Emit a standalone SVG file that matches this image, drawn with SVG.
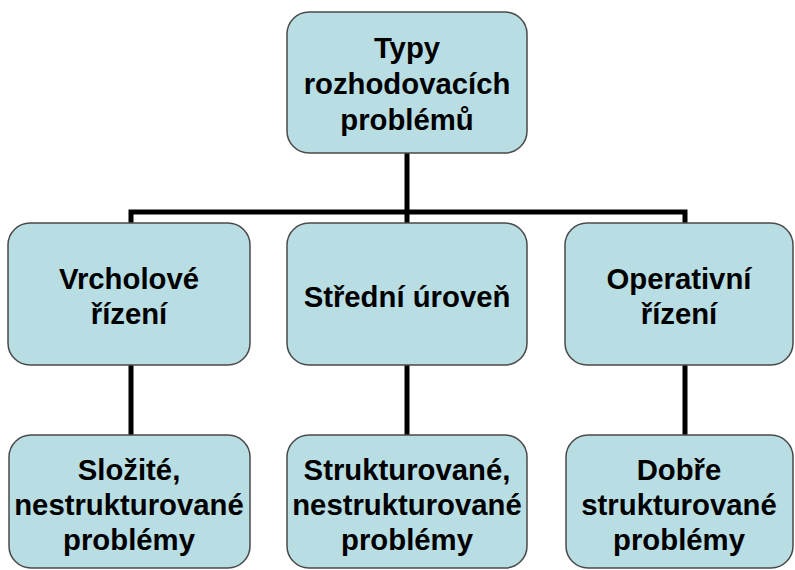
<svg xmlns="http://www.w3.org/2000/svg" width="795" height="570" viewBox="0 0 795 570">
<style>
.box{fill:#b8dde2;stroke:#4a4a4a;stroke-width:1.5}
.t{font-family:"Liberation Sans",Arial,sans-serif;font-weight:bold;font-size:29.3px;fill:#000;text-anchor:middle}
.c{fill:none;stroke:#000;stroke-width:5;stroke-linecap:butt;stroke-linejoin:miter}
</style>
<rect width="795" height="570" fill="#fff"/>
<g id="connectors">
<path class="c" d="M407 153 V223"/>
<path class="c" d="M131 223 V212 H685 V223"/>
<path class="c" d="M131 365 V435"/>
<path class="c" d="M407 365 V435"/>
<path class="c" d="M685 365 V435"/>
</g>
<g id="root">
<rect class="box" x="287" y="12" width="240" height="141" rx="22"/>
<text class="t" x="407" y="58">Typy</text>
<text class="t" x="407" y="94">rozhodovacích</text>
<text class="t" x="407" y="130">problémů</text>
</g>
<g id="vrcholove">
<rect class="box" x="8" y="223" width="242" height="142" rx="22"/>
<text class="t" x="129" y="289">Vrcholové</text>
<text class="t" x="129" y="324">řízení</text>
</g>
<g id="stredni">
<rect class="box" x="287" y="223" width="240" height="142" rx="22"/>
<text class="t" x="407" y="307">Střední úroveň</text>
</g>
<g id="operativni">
<rect class="box" x="565" y="223" width="228" height="142" rx="22"/>
<text class="t" x="679" y="289">Operativní</text>
<text class="t" x="679" y="324">řízení</text>
</g>
<g id="slozite">
<rect class="box" x="9" y="435" width="241" height="133" rx="22"/>
<text class="t" x="129" y="480">Složité,</text>
<text class="t" x="129" y="515">nestrukturované</text>
<text class="t" x="129" y="550">problémy</text>
</g>
<g id="strukturovane">
<rect class="box" x="287" y="435" width="240" height="133" rx="22"/>
<text class="t" x="407" y="480">Strukturované,</text>
<text class="t" x="407" y="515">nestrukturované</text>
<text class="t" x="407" y="550">problémy</text>
</g>
<g id="dobre">
<rect class="box" x="566" y="435" width="227" height="133" rx="22"/>
<text class="t" x="679" y="480">Dobře</text>
<text class="t" x="679" y="515">strukturované</text>
<text class="t" x="679" y="550">problémy</text>
</g>
</svg>
